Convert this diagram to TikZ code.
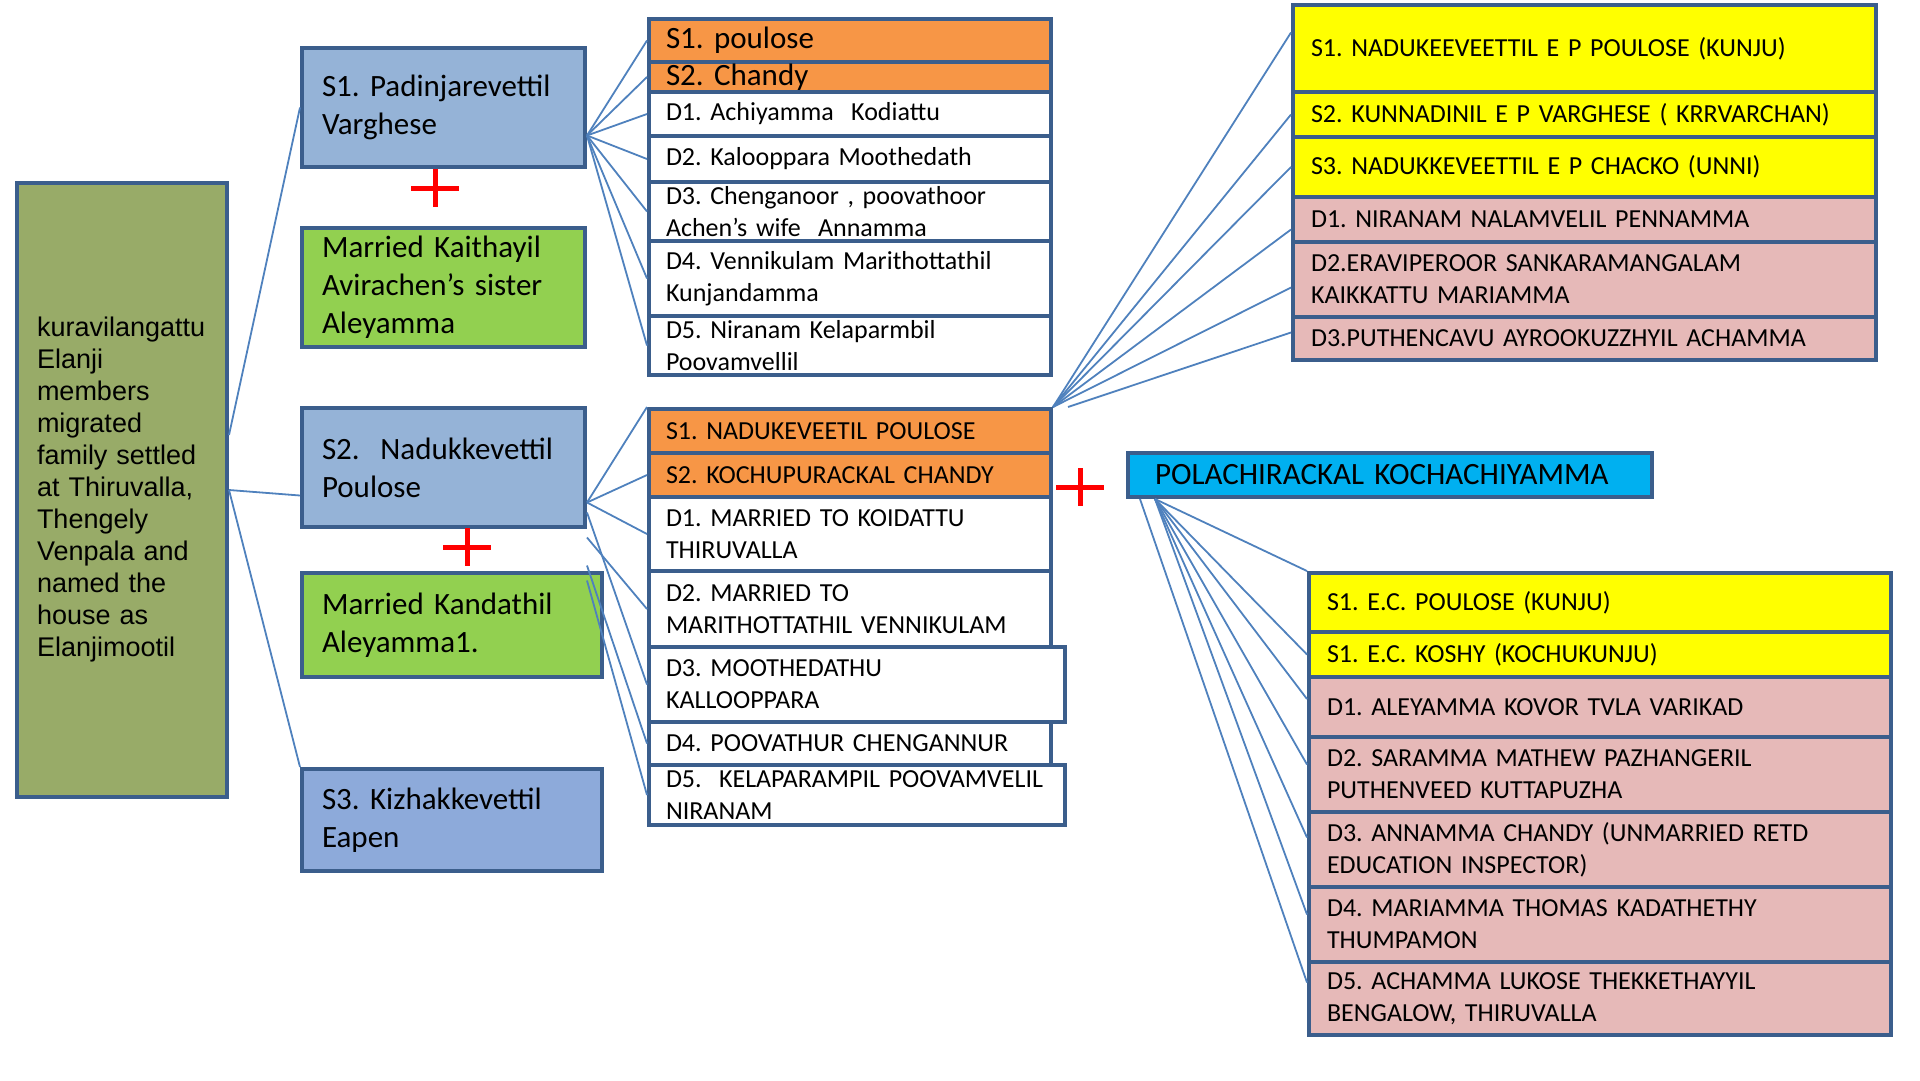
\documentclass[tikz,border=0pt]{standalone}
\usepackage{fontspec}
\setmainfont{Carlito}
\newfontfamily\arialfont{Liberation Sans}
\usepackage{tikz}
\usetikzlibrary{positioning}
\usepackage{xcolor}
\frenchspacing

\definecolor{edge}{HTML}{3B5E8C}
\definecolor{skyfill}{HTML}{95B3D7}
\definecolor{skydeep}{HTML}{8DAADA}
\definecolor{leaf}{HTML}{92D050}
\definecolor{mossfill}{HTML}{98AB68}
\definecolor{tangerine}{HTML}{F79646}
\definecolor{lemon}{HTML}{FFFF00}
\definecolor{rose}{HTML}{E6B9B8}
\definecolor{cyanfill}{HTML}{00B0F0}
\definecolor{wireblue}{HTML}{4F81BD}

\tikzset{
  pbox/.style={draw=edge, line width=4pt, anchor=north west, align=left, inner ysep=0pt, inner xsep=20pt},
  bigtext/.style={font=\fontsize{31}{38}\selectfont},
  smalltext/.style={font=\fontsize{26}{32}\selectfont},
  famrow/.style={smalltext, inner xsep=17pt, text width=368pt, fill=white},
  kinrow/.style={smalltext, inner xsep=18pt},
  wire/.style={draw=wireblue, line width=1.8pt},
  cross/.style={draw=red, line width=5pt},
}

\begin{document}
\begin{tikzpicture}[x=1pt,y=-1pt]
\useasboundingbox (0,0) rectangle (1920,1080);

% first generation
\node[pbox, fill=mossfill, minimum height=614pt, text width=170pt, font=\arialfont\fontsize{27}{32}\selectfont] (elanji) at (15,181)
{kuravilangattu\\Elanji\\members\\migrated\\family settled\\at Thiruvalla,\\Thengely\\Venpala and\\named the\\house as\\Elanjimootil};

% sons and wives
\node[pbox, bigtext, fill=skyfill, minimum height=119pt, text width=243pt] (varghese) at (300,46) {S1. Padinjarevettil\\Varghese};
\node[pbox, bigtext, fill=leaf, minimum height=119pt, text width=243pt] (kaithayil) at (300,226) {Married Kaithayil\\Avirachen’s sister\\Aleyamma};
\node[pbox, bigtext, fill=skyfill, minimum height=119pt, text width=243pt] (poulose) at (300,406) {S2.\ \ Nadukkevettil\\Poulose};
\node[pbox, bigtext, fill=leaf, minimum height=104pt, text width=260pt] (kandathil) at (300,571) {Married Kandathil\\Aleyamma1.};
\node[pbox, bigtext, fill=skydeep, minimum height=102pt, text width=260pt] (eapen) at (300,767) {S3. Kizhakkevettil\\Eapen};

% children of Varghese
\node[pbox, famrow, bigtext, fill=tangerine, minimum height=43pt] (vk1) at (647,17) {S1. poulose};
\node[pbox, famrow, bigtext, fill=tangerine, minimum height=30pt] (vk2) at (647,60) {\raisebox{-2pt}{S2. Chandy}};
\node[pbox, famrow, minimum height=44pt] (vk3) at (647,90) {D1. Achiyamma\ \ Kodiattu};
\node[pbox, famrow, minimum height=46pt] (vk4) at (647,134) {D2. Kalooppara Moothedath};
\node[pbox, famrow, minimum height=59pt] (vk5) at (647,180) {D3. Chenganoor , poovathoor\\Achen’s wife\ \ Annamma};
\node[pbox, famrow, minimum height=75pt] (vk6) at (647,239) {D4. Vennikulam Marithottathil\\Kunjandamma};
\node[pbox, famrow, minimum height=59pt] (vk7) at (647,314) {D5. Niranam Kelaparmbil\\Poovamvellil};

% children of Poulose
\node[pbox, famrow, fill=tangerine, minimum height=44pt] (pk1) at (647,407) {S1. NADUKEVEETIL POULOSE};
\node[pbox, famrow, fill=tangerine, minimum height=44pt] (pk2) at (647,451) {S2. KOCHUPURACKAL CHANDY};
\node[pbox, famrow, minimum height=74pt] (pk3) at (647,495) {D1. MARRIED TO KOIDATTU\\THIRUVALLA};
\node[pbox, famrow, minimum height=76pt] (pk4) at (647,569) {D2. MARRIED TO\\MARITHOTTATHIL VENNIKULAM};
\node[pbox, famrow, text width=382pt, minimum height=75pt] (pk5) at (647,645) {D3. MOOTHEDATHU\\KALLOOPPARA};
\node[pbox, famrow, minimum height=43pt] (pk6) at (647,720) {D4. POOVATHUR CHENGANNUR};
\node[pbox, famrow, text width=382pt, minimum height=60pt] (pk7) at (647,763) {\mbox{D5.\ \ KELAPARAMPIL POOVAMVELIL}\\NIRANAM};

% children of Nadukeveetil Poulose
\node[pbox, kinrow, fill=lemon, text width=547pt, minimum height=87pt] (uk1) at (1291,3) {S1. NADUKEEVEETTIL E P POULOSE (KUNJU)};
\node[pbox, kinrow, fill=lemon, text width=547pt, minimum height=45pt] (uk2) at (1291,90) {S2. KUNNADINIL E P VARGHESE ( KRRVARCHAN)};
\node[pbox, kinrow, fill=lemon, text width=547pt, minimum height=60pt] (uk3) at (1291,135) {S3. NADUKKEVEETTIL E P CHACKO (UNNI)};
\node[pbox, kinrow, fill=rose, text width=547pt, minimum height=45pt] (uk4) at (1291,195) {D1. NIRANAM NALAMVELIL PENNAMMA};
\node[pbox, kinrow, fill=rose, text width=547pt, minimum height=75pt] (uk5) at (1291,240) {D2.ERAVIPEROOR SANKARAMANGALAM\\KAIKKATTU MARIAMMA};
\node[pbox, kinrow, fill=rose, text width=547pt, minimum height=43pt] (uk6) at (1291,315) {D3.PUTHENCAVU AYROOKUZZHYIL ACHAMMA};

% wife of Kochupurackal Chandy
\node[pbox, bigtext, fill=cyanfill, inner xsep=27pt, text width=470pt, minimum height=44pt] (kochachi) at (1126,451) {POLACHIRACKAL KOCHACHIYAMMA};

% children of Chandy
\node[pbox, kinrow, fill=lemon, text width=546pt, minimum height=59pt] (ek1) at (1307,571) {S1. E.C. POULOSE (KUNJU)};
\node[pbox, kinrow, fill=lemon, text width=546pt, minimum height=45pt] (ek2) at (1307,630) {\raisebox{-7pt}{S1. E.C. KOSHY (KOCHUKUNJU)}};
\node[pbox, kinrow, fill=rose, text width=546pt, minimum height=60pt] (ek3) at (1307,675) {D1. ALEYAMMA KOVOR TVLA VARIKAD};
\node[pbox, kinrow, fill=rose, text width=546pt, minimum height=75pt] (ek4) at (1307,735) {D2. SARAMMA MATHEW PAZHANGERIL\\PUTHENVEED KUTTAPUZHA};
\node[pbox, kinrow, fill=rose, text width=546pt, minimum height=75pt] (ek5) at (1307,810) {D3. ANNAMMA CHANDY (UNMARRIED RETD\\EDUCATION INSPECTOR)};
\node[pbox, kinrow, fill=rose, text width=546pt, minimum height=75pt] (ek6) at (1307,885) {D4. MARIAMMA THOMAS KADATHETHY\\THUMPAMON};
\node[pbox, kinrow, fill=rose, text width=546pt, minimum height=73pt] (ek7) at (1307,960) {D5. ACHAMMA LUKOSE THEKKETHAYYIL\\BENGALOW, THIRUVALLA};

% marriage marks
\draw[cross] (411,188) -- (459,188) (435,169) -- (435,207);
\draw[cross] (443,547) -- (491,547) (467,528) -- (467,566);
\draw[cross] (1056,487) -- (1104,487) (1080,468) -- (1080,506);

% fan points
\coordinate (vfan) at ([yshift=-28pt]varghese.east);
\coordinate (pfan) at ([yshift=-35pt]poulose.east);
\coordinate (pfanb) at ([yshift=-70pt]poulose.east);
\coordinate (pfanc) at ([yshift=-45pt]poulose.east);
\coordinate (pfand) at ([yshift=-98pt]poulose.east);
\coordinate (pfane) at ([yshift=-113pt]poulose.east);
\coordinate (kfan) at (pk1.north east);
\coordinate (kfanb) at ([xshift=15pt]pk1.north east);
\coordinate (cfan) at ([xshift=29pt]kochachi.south west);
\coordinate (cfanb) at ([xshift=14pt]kochachi.south west);

% connectors
\draw[wire] ([yshift=55pt]elanji.east) -- (varghese.west);
\draw[wire] (elanji.east) -- ([yshift=-28pt]poulose.west);
\draw[wire] (elanji.east) -- (eapen.north west);

\draw[wire] (vfan) -- (vk1.west);
\draw[wire] (vfan) -- (vk2.west);
\draw[wire] (vfan) -- (vk3.west);
\draw[wire] (vfan) -- (vk4.west);
\draw[wire] (vfan) -- (vk5.west);
\draw[wire] (vfan) -- (vk6.west);
\draw[wire] (vfan) -- (vk7.west);

\draw[wire] (pfan) -- (pk1.north west);
\draw[wire] (pfan) -- (pk2.west);
\draw[wire] (pfan) -- (pk3.west);
\draw[wire] (pfanb) -- (pk4.west);
\draw[wire] (pfanc) -- (pk5.west);
\draw[wire] (pfand) -- (pk6.west);
\draw[wire] (pfane) -- (pk7.west);

\draw[wire] (kfan) -- ([yshift=16pt]uk1.west);
\draw[wire] (kfan) -- (uk2.west);
\draw[wire] (kfan) -- (uk3.west);
\draw[wire] (kfan) -- ([yshift=-10pt]uk4.west);
\draw[wire] (kfan) -- ([yshift=-8pt]uk5.west);
\draw[wire] (kfanb) -- ([yshift=6pt]uk6.west);

\draw[wire] (cfan) -- (ek1.north west);
\draw[wire] (cfan) -- (ek2.west);
\draw[wire] (cfan) -- ([yshift=8pt]ek3.west);
\draw[wire] (cfan) -- ([yshift=10pt]ek4.west);
\draw[wire] (cfan) -- ([yshift=12pt]ek5.west);
\draw[wire] (cfan) -- ([yshift=10pt]ek6.west);
\draw[wire] (cfanb) -- ([yshift=16pt]ek7.west);

\end{tikzpicture}
\end{document}
